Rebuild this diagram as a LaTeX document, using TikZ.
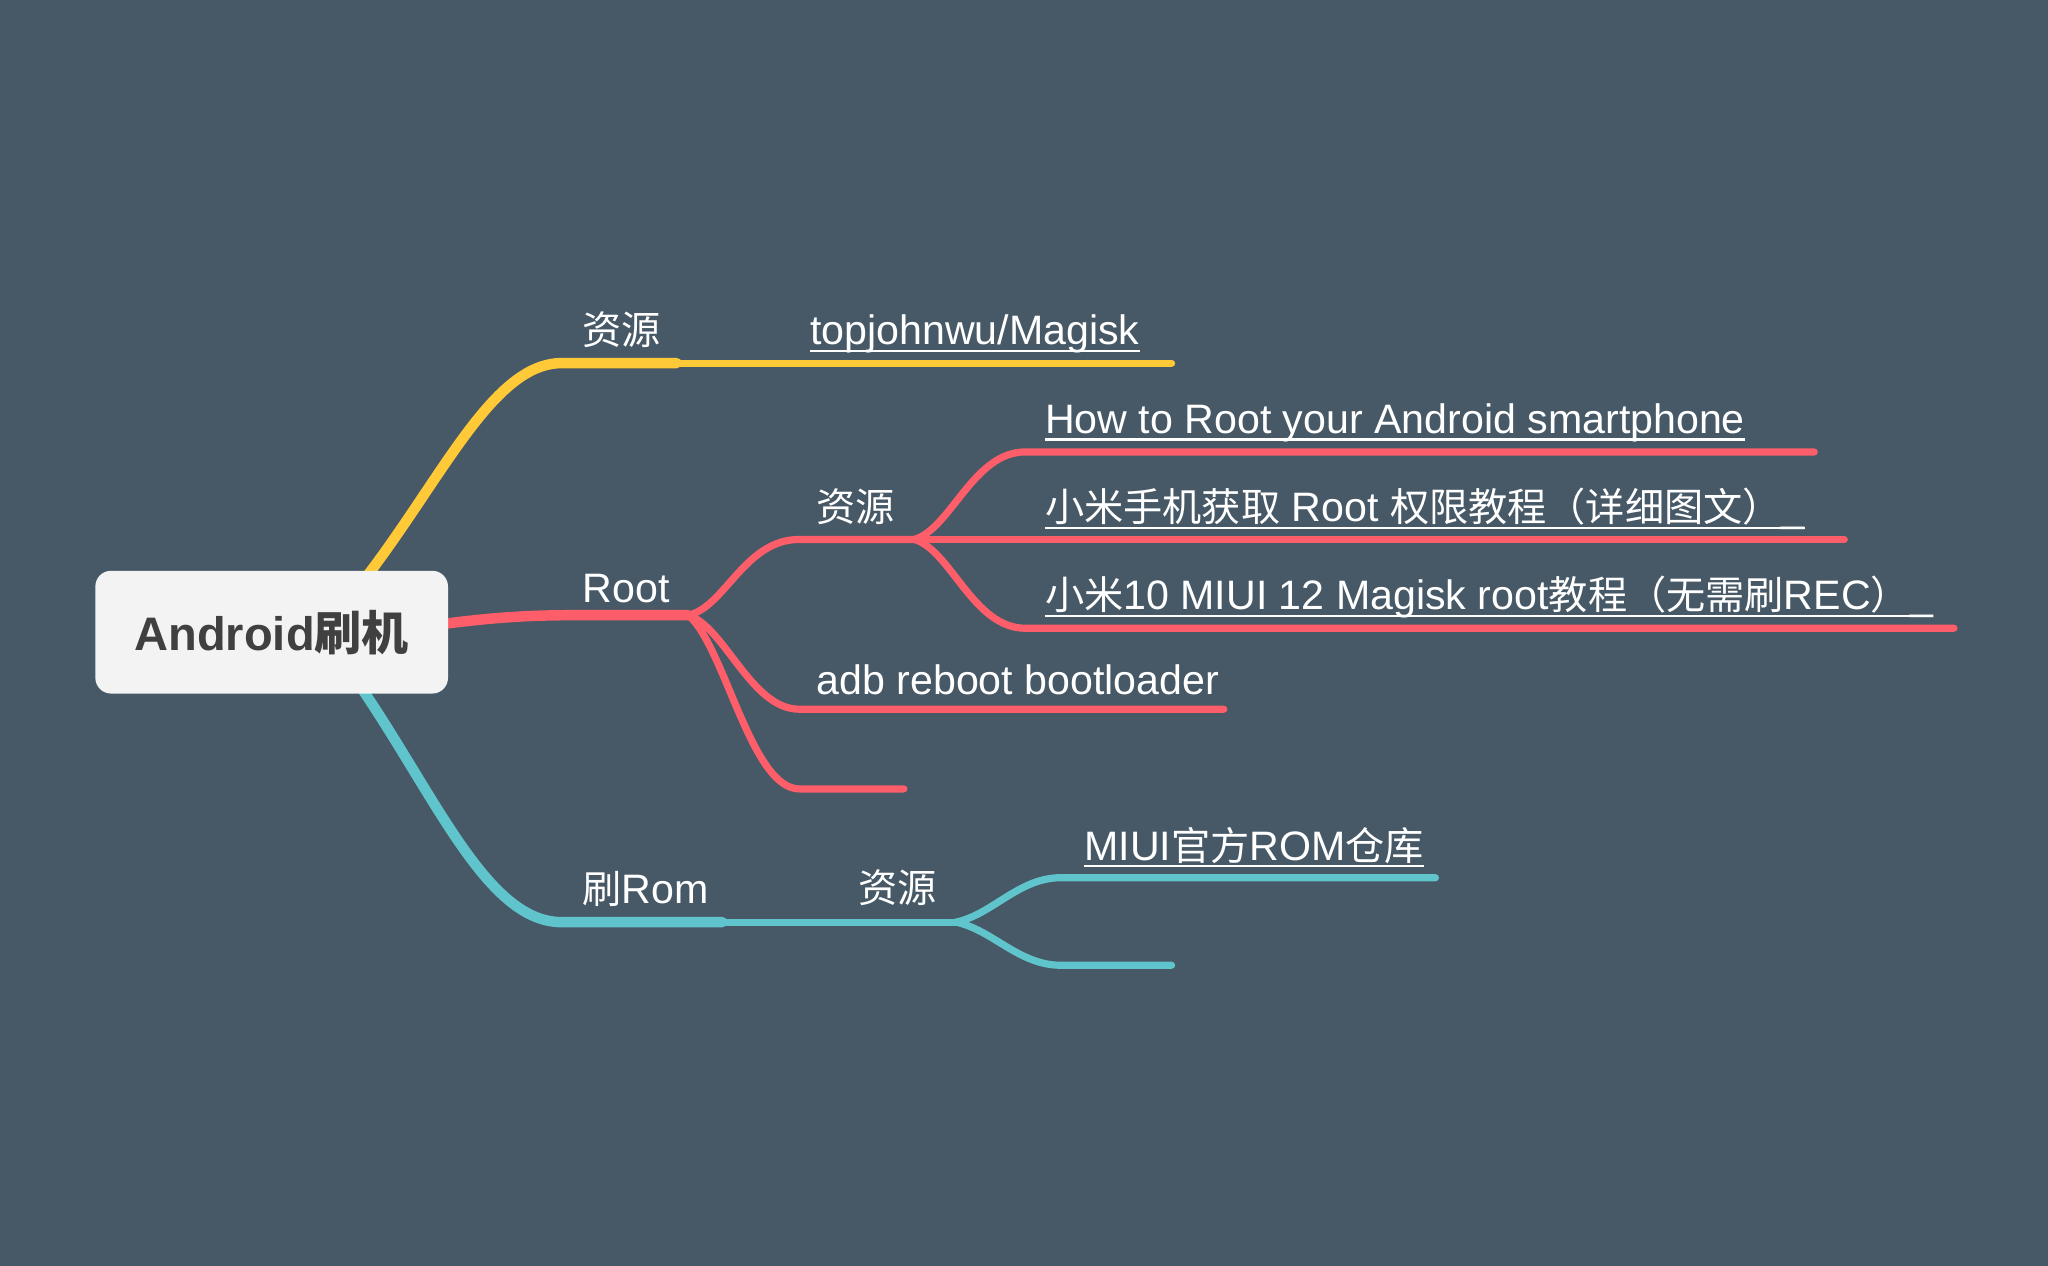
\documentclass[tikz,border=0pt]{standalone}
\usepackage{fontspec}
\setmainfont{Liberation Sans}
\newfontfamily\cjk{Noto Sans CJK SC}
\newcommand{\zh}[1]{{\cjk\fontsize{30}{36}\selectfont #1}}
\definecolor{bgslate}{RGB}{71,89,102}
\definecolor{ylw}{RGB}{255,201,55}
\definecolor{rd}{RGB}{253,94,106}
\definecolor{cyn}{RGB}{96,196,204}
\definecolor{boxgray}{RGB}{243,243,243}
\definecolor{txtgray}{RGB}{64,64,64}

\begin{document}
\begin{tikzpicture}[x=1pt,y=-1pt,
    trunk/.style={line width=8pt,line cap=round,line join=round},
    twig/.style={line width=5.5pt,line cap=round},
    lbl/.style={anchor=base west,inner sep=0pt,text=white,
      font=\fontsize{31.5}{38}\selectfont},
    uline/.style={white,line width=1.6pt}]

  \fill[bgslate] (0,0) rectangle (1568,969);
  \useasboundingbox (0,0) rectangle (1568,969);

  % branch points
  \coordinate (c) at (208,484);
  \coordinate (y0) at (270,455);
  \coordinate (y1) at (430,278);
  \coordinate (y2) at (518,278);
  \coordinate (y3) at (897,278);
  \coordinate (r0) at (330,479);
  \coordinate (r1) at (527,471);
  \coordinate (r2) at (700,413);
  \coordinate (c0) at (265,510);
  \coordinate (c1) at (553,706);
  \coordinate (c2) at (732,706);

  % yellow
  \draw[ylw,trunk] (c) -- (y0) .. controls +(65,-80) and +(-55,0) .. (y1) -- (y2);
  \draw[ylw,twig] (y2) -- (y3);

  % red
  \draw[rd,trunk] (c) -- (r0) .. controls +(50,-7) and +(-30,0) .. (440,471) -- (r1);
  \draw[rd,twig] (r1) .. controls +(28,-6) and +(-42,0) .. (612,413) -- (r2);
  \draw[rd,twig] (r1) .. controls +(28,9) and +(-37,0) .. (612,543) -- (937,543);
  \draw[rd,twig] (r1) .. controls +(28,24) and +(-37,0) .. (612,604) -- (692,604);
  \draw[rd,twig] (r2) .. controls +(28,-8) and +(-40,0) .. (785,346) -- (1389,346);
  \draw[rd,twig] (r2) -- (1412,413);
  \draw[rd,twig] (r2) .. controls +(28,8) and +(-40,0) .. (785,481) -- (1496,481);

  % cyan
  \draw[cyn,trunk] (c) -- (c0) .. controls +(65,90) and +(-60,0) .. (430,706) -- (c1);
  \draw[cyn,twig] (c1) -- (c2);
  \draw[cyn,twig] (c2) .. controls +(28,-6) and +(-32,0) .. (812,672) -- (1099,672);
  \draw[cyn,twig] (c2) .. controls +(28,6) and +(-32,0) .. (812,739) -- (897,739);

  % labels
  \node[lbl] (res1) at (446,264) {\zh{资源}};
  \node[lbl] (magisk) at (620,264) {topjohnwu/Magisk};
  \node[lbl] (rootlbl) at (446,461) {Root};
  \node[lbl] (res2) at (625,399) {\zh{资源}};
  \node[lbl] (howto) at (800,332) {How to Root your Android smartphone};
  \node[lbl] (xmroot) at (800,399.5) {\zh{小米手机获取} Root \zh{权限教程（详细图文）}\_};
  \node[lbl] (xm10) at (800,467) {\zh{小米}10 MIUI 12 Magisk root\zh{教程（无需刷}REC\zh{）}\_};
  \node[lbl] (adb) at (625,532) {adb reboot bootloader};
  \node[lbl] (rom) at (446,692) {\zh{刷}Rom};
  \node[lbl] (res3) at (657,691) {\zh{资源}};
  \node[lbl] (miui) at (830,658.5) {MIUI\zh{官方}ROM\zh{仓库}};

  \foreach \n in {magisk,howto,xmroot,xm10,miui}
    \draw[uline] ([yshift=-4.5pt]\n.base west) -- ([yshift=-4.5pt]\n.base east);

  \node[fill=boxgray,rounded corners=12pt,minimum width=270pt,minimum height=94pt,
    text=txtgray,font=\bfseries\fontsize{36}{43}\selectfont] (root) at (c)
    {Android{\cjk\bfseries 刷机}};
\end{tikzpicture}
\end{document}
